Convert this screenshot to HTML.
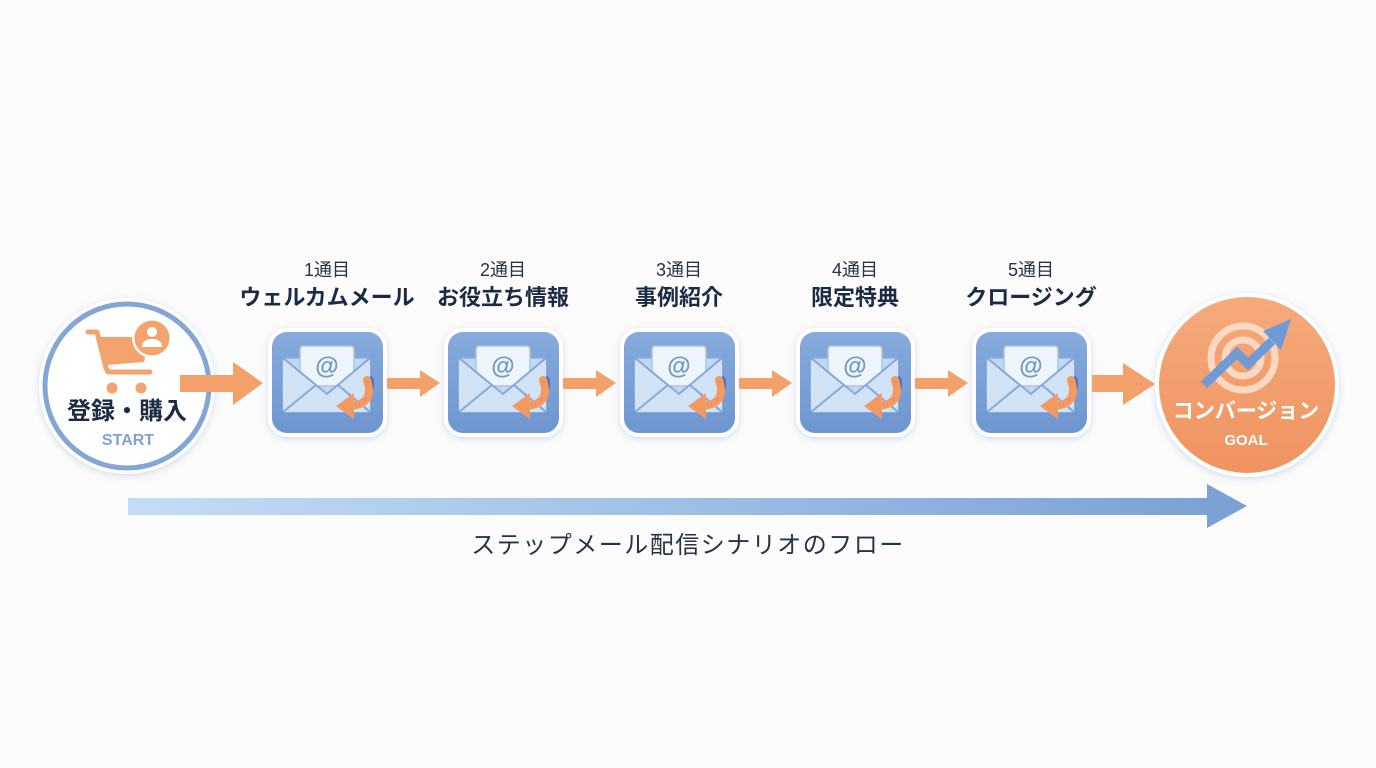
<!DOCTYPE html>
<html><head><meta charset="utf-8">
<style>
html,body{margin:0;padding:0;}
body{width:1376px;height:768px;background:#fcfcfd;position:relative;overflow:hidden;font-family:"Liberation Sans","Noto Sans CJK JP",sans-serif;}
.t{position:absolute;white-space:nowrap;transform:translateX(-50%);line-height:1;}
.num{font-size:18px;color:#26324a;font-weight:400;}
.hd{font-size:22px;color:#1d2a43;font-weight:700;}
svg{position:absolute;left:0;top:0;}
</style></head><body>
<svg width="1376" height="768" viewBox="0 0 1376 768">
<defs>
<filter id="sh" x="-30%" y="-30%" width="160%" height="160%"><feDropShadow dx="0" dy="2" stdDeviation="4" flood-color="#8aa0c0" flood-opacity="0.35"/></filter>
<linearGradient id="tg" x1="0" y1="0" x2="0" y2="1"><stop offset="0" stop-color="#86aadd"/><stop offset="1" stop-color="#6e96cf"/></linearGradient>
<linearGradient id="og" x1="0" y1="0" x2="0" y2="1"><stop offset="0" stop-color="#f5aa7c"/><stop offset="1" stop-color="#ef9360"/></linearGradient>
<linearGradient id="bg" x1="0" y1="0" x2="1" y2="0"><stop offset="0" stop-color="#c4ddf6"/><stop offset="1" stop-color="#7aa2d4"/></linearGradient>
</defs>

<!-- start circle -->
<circle cx="127" cy="386" r="88" fill="#ffffff" filter="url(#sh)"/>
<circle cx="127" cy="386" r="82" fill="#ffffff" stroke="#83a6d6" stroke-width="5"/>
<!-- cart -->
<g fill="none" stroke="#f4a36c" stroke-width="5" stroke-linecap="round" stroke-linejoin="round">
<path d="M88 332 L97 332 L106 368 L108 372 L150 372"/>
</g>
<polygon points="98,337 150,337 144,362 106,365" fill="#f4a36c"/>
<circle cx="112" cy="388" r="5.5" fill="#f4a36c"/>
<circle cx="141" cy="388" r="5.5" fill="#f4a36c"/>
<circle cx="152" cy="338" r="20" fill="#ffffff"/>
<circle cx="152" cy="338" r="17.5" fill="#f4a36c"/>
<circle cx="152" cy="332" r="5" fill="#ffffff"/>
<path d="M142 347 Q142 339 152 339 Q162 339 162 347 Z" fill="#ffffff"/>

<!-- first arrow -->
<polygon points="180,375 233,375 233,362 263,383 233,405 233,392 180,392" fill="#f4a06a"/>

<!-- tiles -->
<g transform="translate(272,332)">
<rect x="-4" y="-4" width="119" height="109" rx="19" fill="#ffffff" filter="url(#sh)"/>
<rect x="0" y="0" width="111" height="101" rx="15" fill="url(#tg)"/>
<rect x="11" y="26" width="87" height="54" rx="3" fill="#c3d8f3" stroke="#8caedb" stroke-width="1.5"/>
<rect x="28" y="14" width="54" height="40" rx="3" fill="#eef5fd" stroke="#a9c3e6" stroke-width="1.5"/>
<text x="55" y="42" text-anchor="middle" font-family="Liberation Sans" font-weight="700" font-size="24" fill="#6f96c9">@</text>
<polygon points="11,26 55,62 98,26 98,80 11,80" fill="#d3e3f7"/>
<path d="M11 26 L55 62 L98 26 M11 80 L44 53 M98 80 L66 53" stroke="#86a9d8" stroke-width="2" fill="none"/>
<ellipse cx="99" cy="52" rx="3" ry="8" fill="#4d76b2"/>
<path d="M95 48 Q103 72 78 74" stroke="#f29a62" stroke-width="8" fill="none" stroke-linecap="round"/>
<polygon points="82,61 82,87 64,74" fill="#f29a62"/>
</g>
<g transform="translate(448,332)">
<rect x="-4" y="-4" width="119" height="109" rx="19" fill="#ffffff" filter="url(#sh)"/>
<rect x="0" y="0" width="111" height="101" rx="15" fill="url(#tg)"/>
<rect x="11" y="26" width="87" height="54" rx="3" fill="#c3d8f3" stroke="#8caedb" stroke-width="1.5"/>
<rect x="28" y="14" width="54" height="40" rx="3" fill="#eef5fd" stroke="#a9c3e6" stroke-width="1.5"/>
<text x="55" y="42" text-anchor="middle" font-family="Liberation Sans" font-weight="700" font-size="24" fill="#6f96c9">@</text>
<polygon points="11,26 55,62 98,26 98,80 11,80" fill="#d3e3f7"/>
<path d="M11 26 L55 62 L98 26 M11 80 L44 53 M98 80 L66 53" stroke="#86a9d8" stroke-width="2" fill="none"/>
<ellipse cx="99" cy="52" rx="3" ry="8" fill="#4d76b2"/>
<path d="M95 48 Q103 72 78 74" stroke="#f29a62" stroke-width="8" fill="none" stroke-linecap="round"/>
<polygon points="82,61 82,87 64,74" fill="#f29a62"/>
</g>
<g transform="translate(624,332)">
<rect x="-4" y="-4" width="119" height="109" rx="19" fill="#ffffff" filter="url(#sh)"/>
<rect x="0" y="0" width="111" height="101" rx="15" fill="url(#tg)"/>
<rect x="11" y="26" width="87" height="54" rx="3" fill="#c3d8f3" stroke="#8caedb" stroke-width="1.5"/>
<rect x="28" y="14" width="54" height="40" rx="3" fill="#eef5fd" stroke="#a9c3e6" stroke-width="1.5"/>
<text x="55" y="42" text-anchor="middle" font-family="Liberation Sans" font-weight="700" font-size="24" fill="#6f96c9">@</text>
<polygon points="11,26 55,62 98,26 98,80 11,80" fill="#d3e3f7"/>
<path d="M11 26 L55 62 L98 26 M11 80 L44 53 M98 80 L66 53" stroke="#86a9d8" stroke-width="2" fill="none"/>
<ellipse cx="99" cy="52" rx="3" ry="8" fill="#4d76b2"/>
<path d="M95 48 Q103 72 78 74" stroke="#f29a62" stroke-width="8" fill="none" stroke-linecap="round"/>
<polygon points="82,61 82,87 64,74" fill="#f29a62"/>
</g>
<g transform="translate(800,332)">
<rect x="-4" y="-4" width="119" height="109" rx="19" fill="#ffffff" filter="url(#sh)"/>
<rect x="0" y="0" width="111" height="101" rx="15" fill="url(#tg)"/>
<rect x="11" y="26" width="87" height="54" rx="3" fill="#c3d8f3" stroke="#8caedb" stroke-width="1.5"/>
<rect x="28" y="14" width="54" height="40" rx="3" fill="#eef5fd" stroke="#a9c3e6" stroke-width="1.5"/>
<text x="55" y="42" text-anchor="middle" font-family="Liberation Sans" font-weight="700" font-size="24" fill="#6f96c9">@</text>
<polygon points="11,26 55,62 98,26 98,80 11,80" fill="#d3e3f7"/>
<path d="M11 26 L55 62 L98 26 M11 80 L44 53 M98 80 L66 53" stroke="#86a9d8" stroke-width="2" fill="none"/>
<ellipse cx="99" cy="52" rx="3" ry="8" fill="#4d76b2"/>
<path d="M95 48 Q103 72 78 74" stroke="#f29a62" stroke-width="8" fill="none" stroke-linecap="round"/>
<polygon points="82,61 82,87 64,74" fill="#f29a62"/>
</g>
<g transform="translate(976,332)">
<rect x="-4" y="-4" width="119" height="109" rx="19" fill="#ffffff" filter="url(#sh)"/>
<rect x="0" y="0" width="111" height="101" rx="15" fill="url(#tg)"/>
<rect x="11" y="26" width="87" height="54" rx="3" fill="#c3d8f3" stroke="#8caedb" stroke-width="1.5"/>
<rect x="28" y="14" width="54" height="40" rx="3" fill="#eef5fd" stroke="#a9c3e6" stroke-width="1.5"/>
<text x="55" y="42" text-anchor="middle" font-family="Liberation Sans" font-weight="700" font-size="24" fill="#6f96c9">@</text>
<polygon points="11,26 55,62 98,26 98,80 11,80" fill="#d3e3f7"/>
<path d="M11 26 L55 62 L98 26 M11 80 L44 53 M98 80 L66 53" stroke="#86a9d8" stroke-width="2" fill="none"/>
<ellipse cx="99" cy="52" rx="3" ry="8" fill="#4d76b2"/>
<path d="M95 48 Q103 72 78 74" stroke="#f29a62" stroke-width="8" fill="none" stroke-linecap="round"/>
<polygon points="82,61 82,87 64,74" fill="#f29a62"/>
</g>

<!-- small arrows -->
<polygon points="387,378 420,378 420,370 440,383 420,397 420,389 387,389" fill="#f4a06a"/>
<polygon points="563,378 596,378 596,370 616,383 596,397 596,389 563,389" fill="#f4a06a"/>
<polygon points="739,378 772,378 772,370 792,383 772,397 772,389 739,389" fill="#f4a06a"/>
<polygon points="915,378 948,378 948,370 968,383 948,397 948,389 915,389" fill="#f4a06a"/>
<!-- last arrow -->
<polygon points="1092,375 1123,375 1123,363 1155,384 1123,405 1123,392 1092,392" fill="#f4a06a"/>

<!-- goal circle -->
<circle cx="1247" cy="385" r="92" fill="#ffffff" filter="url(#sh)"/>
<circle cx="1247" cy="385" r="88" fill="url(#og)"/>
<circle cx="1243" cy="358" r="32" fill="none" stroke="#fde2d0" stroke-opacity="0.85" stroke-width="7"/>
<circle cx="1243" cy="358" r="18" fill="none" stroke="#fde2d0" stroke-opacity="0.85" stroke-width="7"/>
<polyline points="1204,385 1237,353 1248,364 1272,341" fill="none" stroke="#6e9ad6" stroke-width="9" stroke-linejoin="miter"/>
<polygon points="1263,331 1281,350 1291,319" fill="#6e9ad6"/>

<!-- bottom arrow -->
<rect x="128" y="498" width="1080" height="17" fill="url(#bg)"/>
<polygon points="1207,484 1247,506 1207,528" fill="#7aa2d4"/>
</svg>

<div class="t" style="left:127px;top:400px;font-size:24px;font-weight:700;color:#1d2a43;">登録・購入</div>
<div class="t" style="left:128px;top:433px;font-size:16px;font-weight:700;color:#7fa3d1;">START</div>

<div class="t num" style="left:327px;top:261px;">1通目</div>
<div class="t num" style="left:503px;top:261px;">2通目</div>
<div class="t num" style="left:679px;top:261px;">3通目</div>
<div class="t num" style="left:855px;top:261px;">4通目</div>
<div class="t num" style="left:1031px;top:261px;">5通目</div>

<div class="t hd" style="left:327px;top:287px;">ウェルカムメール</div>
<div class="t hd" style="left:503px;top:287px;">お役立ち情報</div>
<div class="t hd" style="left:679px;top:287px;">事例紹介</div>
<div class="t hd" style="left:855px;top:287px;">限定特典</div>
<div class="t hd" style="left:1031px;top:287px;">クロージング</div>

<div class="t" style="left:1246px;top:401px;font-size:21px;font-weight:700;color:#ffffff;">コンバージョン</div>
<div class="t" style="left:1246px;top:433px;font-size:15px;font-weight:700;color:#ffffff;">GOAL</div>

<div class="t" style="left:688px;top:534px;font-size:24px;font-weight:400;color:#26324a;letter-spacing:1.5px;">ステップメール配信シナリオのフロー</div>
</body></html>
